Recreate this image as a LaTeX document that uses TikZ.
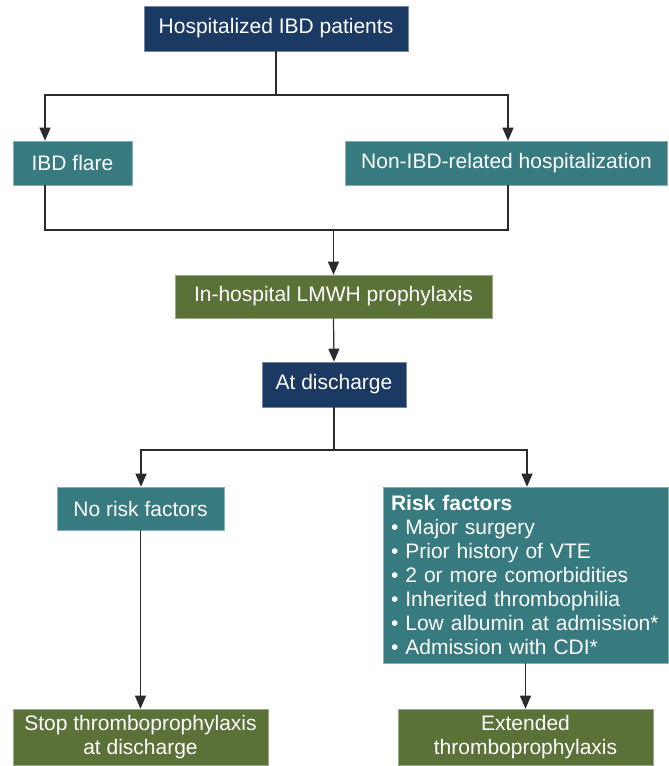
\documentclass[tikz,border=0pt]{standalone}
\usepackage{fontspec}
\setmainfont{Liberation Sans}
\usetikzlibrary{arrows.meta}
\definecolor{navy}{HTML}{1B3A63}
\definecolor{teal}{HTML}{377B80}
\definecolor{olive}{HTML}{5A7238}
\definecolor{conn}{HTML}{2B2B2B}
\tikzset{
  box/.style={rectangle, text=white, inner sep=0pt, align=center,
    font=\fontsize{21}{24}\selectfont, line width=0.6pt},
  navybox/.style={box, fill=navy, draw=navy!60!white},
  tealbox/.style={box, fill=teal, draw=teal!60!white},
  olivebox/.style={box, fill=olive, draw=olive!60!white},
  conline/.style={draw=conn, line width=1.2pt},
  conarrow/.style={conline, -{Triangle[length=13pt,width=11pt]}},
}
\begin{document}
\begin{tikzpicture}[x=1pt,y=-1pt]
\useasboundingbox (0,0) rectangle (669,766);
\node[navybox, minimum width=264pt, minimum height=45pt] (top) at (276,28.5) {Hospitalized IBD patients};
\node[tealbox, minimum width=119pt, minimum height=44pt] (flare) at (72.5,163) {IBD flare};
\node[tealbox, minimum width=322pt, minimum height=44pt] (nonibd) at (506.5,163) {Non-IBD-related hospitalization};
\node[olivebox, minimum width=317pt, minimum height=43pt] (lmwh) at (333.5,296.5) {In-hospital LMWH prophylaxis};
\node[navybox, minimum width=144pt, minimum height=45pt] (disc) at (334,384.5) {At discharge};
\node[tealbox, minimum width=167pt, minimum height=43pt] (norisk) at (140.5,508.5) {No risk factors};
\node[tealbox, minimum width=285pt, minimum height=176pt, text width=269pt, align=left] (risk) at (525.5,575)
  {\textbf{Risk factors}\\
   • Major surgery\\
   • Prior history of VTE\\
   • 2 or more comorbidities\\
   • Inherited thrombophilia\\
   • Low albumin at admission*\\
   • Admission with CDI*};
\node[olivebox, minimum width=255pt, minimum height=56pt] (stop) at (140.5,737) {Stop thromboprophylaxis\\at discharge};
\node[olivebox, minimum width=255pt, minimum height=56pt] (ext) at (525.5,737) {Extended\\thromboprophylaxis};

\coordinate (xl) at (45,0);
\coordinate (xr) at (508,0);
\coordinate (j1) at (276,95);
\coordinate (j2) at (333.5,230);
\coordinate (j3) at (334,450);
\coordinate (bl) at (141,0);
\coordinate (br) at (527,0);

\draw[conline] (top.south) -- (j1);
\draw[conarrow] (j1) -| (flare.north -| xl);
\draw[conarrow] (j1) -| (nonibd.north -| xr);
\draw[conline] (flare.south -| xl) |- (j2);
\draw[conline] (nonibd.south -| xr) |- (j2);
\draw[conarrow] (j2) -- (lmwh.north);
\draw[conarrow] (lmwh.south) -- (disc.north);
\draw[conline] (disc.south) -- (j3);
\draw[conarrow] (j3) -| (norisk.north -| bl);
\draw[conarrow] (j3) -| (risk.north -| br);
\draw[conarrow] (norisk.south) -- (stop.north);
\draw[conarrow] (risk.south) -- (ext.north);
\end{tikzpicture}
\end{document}
